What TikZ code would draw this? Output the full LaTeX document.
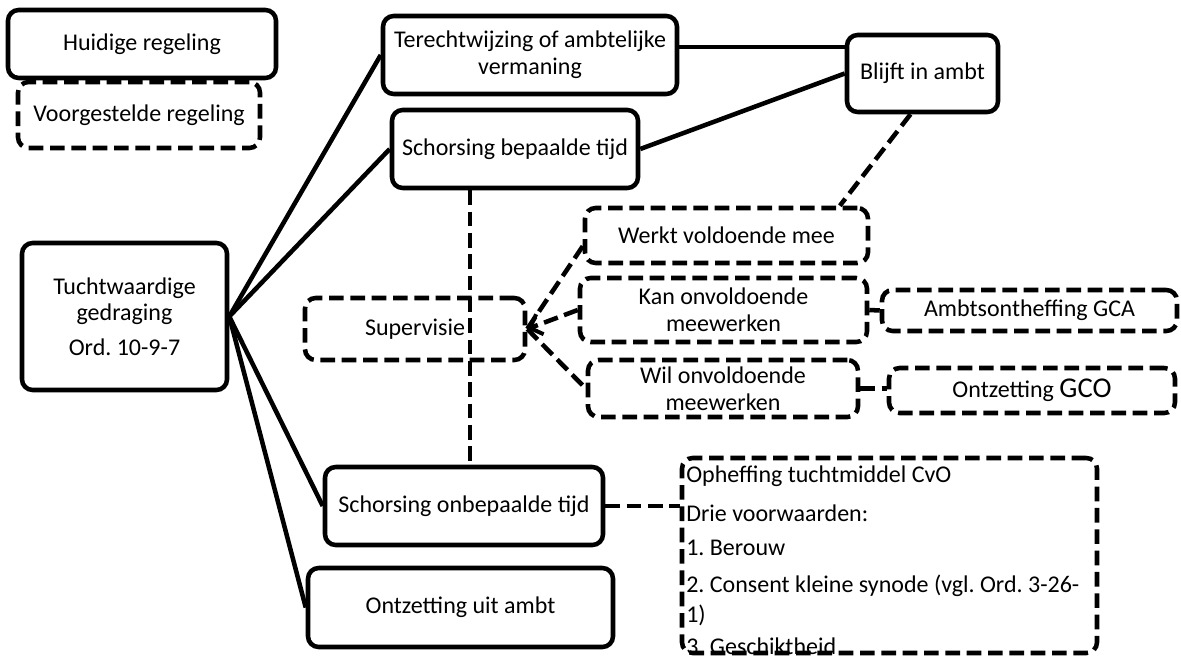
\documentclass[tikz,border=0pt]{standalone}
\usepackage{fontspec}
\setmainfont{Carlito}
\usetikzlibrary{arrows.meta,calc}
\frenchspacing
\begin{document}
\begin{tikzpicture}[x=0.75pt,y=-0.75pt,
  every node/.style={font=\fontsize{18}{20}\selectfont, inner sep=0pt, align=center},
  solidbox/.style={draw=black, line width=3.4pt, rounded corners=8pt, line join=round},
  dashbox/.style={draw=black, line width=3.4pt, rounded corners=8pt, dash pattern=on 11pt off 5pt},
  sline/.style={draw=black, line width=3.4pt},
  dline/.style={draw=black, line width=3.4pt, dash pattern=on 11pt off 5pt}]
\useasboundingbox (0,0) rectangle (1181,659);

\node[solidbox, minimum width=201pt, minimum height=51pt] (huid) at (142,44) {Huidige regeling};
\node[dashbox, minimum width=181.5pt, minimum height=49.5pt] (voorg) at (139,115) {Voorgestelde regeling};
\node[solidbox, minimum width=153.75pt, minimum height=110.25pt] (tucht) at (124.5,316.5) {Tuchtwaardige\\gedraging\\[6pt]Ord. 10-9-7};
\node[solidbox, minimum width=220.5pt, minimum height=58.5pt] (terecht) at (530,55) {Terechtwijzing of ambtelijke\\vermaning};
\node[solidbox, minimum width=184.5pt, minimum height=58.5pt] (sbt) at (515,149) {Schorsing bepaalde tijd};
\node[solidbox, minimum width=113.25pt, minimum height=57.75pt] (blijft) at (922.5,73.5) {Blijft in ambt};
\node[dashbox, minimum width=165pt, minimum height=46.5pt] (sup) at (415,329) {Supervisie};
\node[dashbox, minimum width=212.25pt, minimum height=41.25pt] (werkt) at (726.5,235.5) {Werkt voldoende mee};
\node[dashbox, minimum width=215.25pt, minimum height=48pt] (kan) at (723.5,310) {Kan onvoldoende\\meewerken};
\node[dashbox, minimum width=202.5pt, minimum height=42.75pt] (wil) at (723,388.5) {Wil onvoldoende\\meewerken};
\node[dashbox, minimum width=221.25pt, minimum height=30.75pt] (amb) at (1029.5,310.5) {Ambtsontheffing GCA};
\node[dashbox, minimum width=214.5pt, minimum height=33.75pt] (gco) at (1032,390.5) {Ontzetting {\fontsize{21.5}{24}\selectfont GCO}};
\node[solidbox, minimum width=208.5pt, minimum height=58.5pt] (sob) at (464,506) {Schorsing onbepaalde tijd};
\node[solidbox, minimum width=228.75pt, minimum height=59.25pt] (ouit) at (460.5,607.5) {Ontzetting uit ambt};
\node[dashbox, minimum width=311.25pt, minimum height=146.25pt] (oph) at (889.5,555.5) {};
\node[anchor=north west, align=left, font=\fontsize{18}{22.5}\selectfont] (ophtext) at (686,466)
  {Opheffing tuchtmiddel CvO\\[6.75pt]Drie voorwaarden:\\[3pt]1. Berouw\\[5.25pt]2. Consent kleine synode (vgl. Ord. 3-26-\\1)\\[1.5pt]3. Geschiktheid};

% solid connectors
\draw[sline] (tucht.east) -- (terecht.west);
\draw[sline] (tucht.east) -- (sbt.west);
\draw[sline] (tucht.east) -- (sob.west);
\draw[sline] (tucht.east) -- (ouit.west);
\draw[sline] ([yshift=6pt]terecht.east) -- ([yshift=6pt]terecht.east -| blijft.west);
\draw[sline] (sbt.east) -- (blijft.west);

% dashed connectors
\draw[dline] ([xshift=-33.75pt]sbt.south) -- ([xshift=-33.75pt]sbt.south |- sob.north);
\draw[dline] ([xshift=-9pt]blijft.south) -- ([xshift=85pt]werkt.north);
\draw[dline] ([yshift=-8pt]werkt.west) -- (sup.east);
\draw[dline, -{Straight Barb[length=8pt,width=16pt,line width=3pt]}] (kan.west) -- (sup.east);
\draw[dline] (sup.east) -- (wil.west);
\draw[dline] (kan.east) -- (amb.west);
\draw[dline] (wil.east) -- (wil.east -| gco.west);
\draw[dline] (sob.east) -- (sob.east -| oph.west);
\end{tikzpicture}
\end{document}
